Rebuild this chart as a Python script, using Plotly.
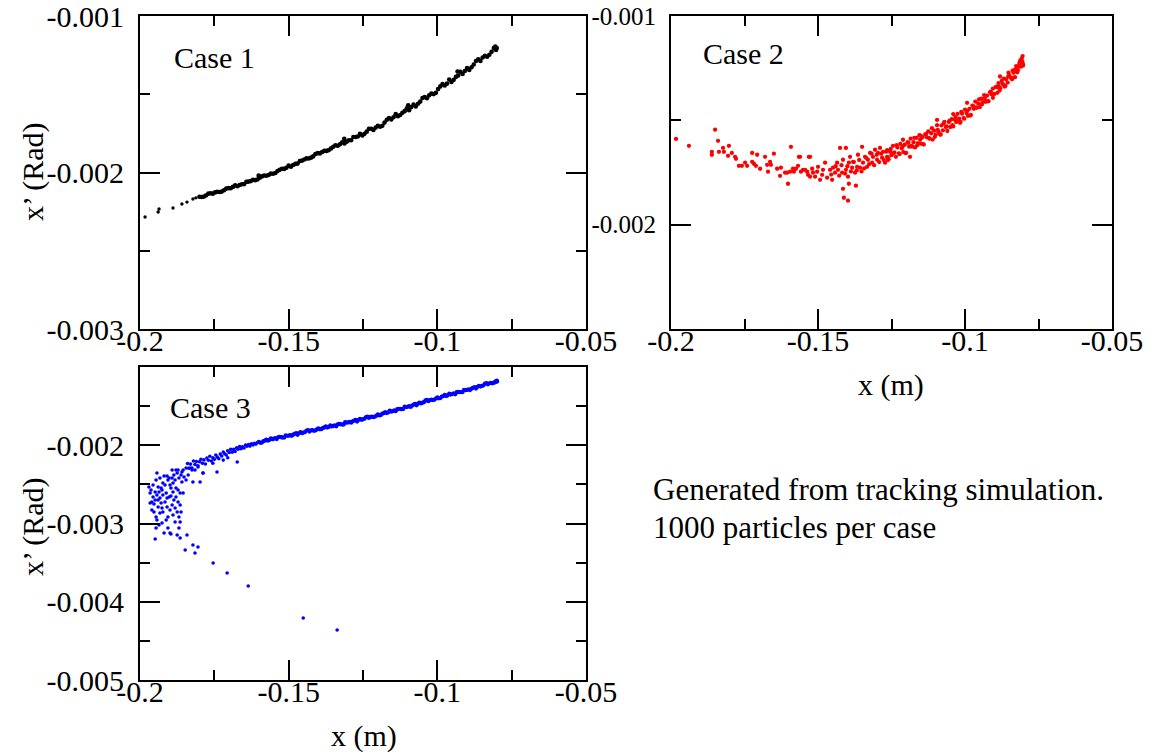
import plotly.graph_objects as go

# ---------------- data (x in m, x' in rad) ----------------
case1_tail = [(-0.1983, -0.002284), (-0.1939, -0.002252), (-0.1936, -0.002233), (-0.1889, -0.002227),
              (-0.1859, -0.002201), (-0.1842, -0.002189), (-0.1822, -0.002169), (-0.1812, -0.002162)]

case1_band = [(-0.1800, -0.002155), (-0.1785, -0.002154), (-0.1770, -0.002135), (-0.1755, -0.002135),
              (-0.1740, -0.002123), (-0.1725, -0.002122), (-0.1710, -0.002103), (-0.1695, -0.002101),
              (-0.1680, -0.002081), (-0.1665, -0.002080), (-0.1650, -0.002074), (-0.1635, -0.002058),
              (-0.1620, -0.002047), (-0.1605, -0.002045), (-0.1590, -0.002025), (-0.1575, -0.002021),
              (-0.1560, -0.002007), (-0.1545, -0.002003), (-0.1530, -0.001982), (-0.1515, -0.001977),
              (-0.1500, -0.001956), (-0.1485, -0.001952), (-0.1470, -0.001943), (-0.1455, -0.001924),
              (-0.1440, -0.001910), (-0.1425, -0.001905), (-0.1410, -0.001882), (-0.1395, -0.001878),
              (-0.1380, -0.001862), (-0.1365, -0.001857), (-0.1350, -0.001835), (-0.1335, -0.001829),
              (-0.1320, -0.001807), (-0.1305, -0.001803), (-0.1290, -0.001794), (-0.1275, -0.001773),
              (-0.1260, -0.001753), (-0.1245, -0.001753), (-0.1230, -0.001721), (-0.1215, -0.001728),
              (-0.1200, -0.001702), (-0.1185, -0.001701), (-0.1170, -0.001663), (-0.1155, -0.001661),
              (-0.1140, -0.001627), (-0.1125, -0.001633), (-0.1110, -0.001608), (-0.1095, -0.001602),
              (-0.1080, -0.001566), (-0.1065, -0.001561), (-0.1050, -0.001524), (-0.1035, -0.001526),
              (-0.1020, -0.001495), (-0.1005, -0.001491), (-0.0990, -0.001450), (-0.0975, -0.001444),
              (-0.0960, -0.001406), (-0.0945, -0.001408), (-0.0930, -0.001380), (-0.0915, -0.001370),
              (-0.0900, -0.001333), (-0.0885, -0.001327), (-0.0870, -0.001288), (-0.0855, -0.001287),
              (-0.0840, -0.001254), (-0.0825, -0.001248), (-0.0810, -0.001205), (-0.0800, -0.001205)]

case1_band2 = [(-0.17925, -0.002157), (-0.17625, -0.002133), (-0.17325, -0.002125), (-0.17025, -0.002100),
               (-0.16725, -0.002088), (-0.16425, -0.002060), (-0.16125, -0.002049), (-0.15825, -0.002019),
               (-0.15525, -0.002008), (-0.15225, -0.001976), (-0.14925, -0.001963), (-0.14625, -0.001927),
               (-0.14325, -0.001911), (-0.14025, -0.001876), (-0.13725, -0.001862), (-0.13425, -0.001826),
               (-0.13125, -0.001814), (-0.12825, -0.001773), (-0.12525, -0.001764), (-0.12225, -0.001720),
               (-0.11925, -0.001708), (-0.11625, -0.001652), (-0.11325, -0.001640), (-0.11025, -0.001589),
               (-0.10725, -0.001578), (-0.10425, -0.001518), (-0.10125, -0.001499), (-0.09825, -0.001435),
               (-0.09525, -0.001422), (-0.09225, -0.001357), (-0.08925, -0.001345), (-0.08625, -0.001277),
               (-0.08325, -0.001260), (-0.08050, -0.001196), (-0.08025, -0.001217),
               (-0.1601, -0.002020), (-0.1313, -0.001785), (-0.1098, -0.001570), (-0.0932, -0.001355)]

case1_band3 = [(-0.17775, -0.002146), (-0.17475, -0.002127), (-0.17175, -0.002113), (-0.16875, -0.002092),
               (-0.16575, -0.002075), (-0.16275, -0.002055), (-0.15975, -0.002034), (-0.15675, -0.002016),
               (-0.15375, -0.001991), (-0.15075, -0.001970), (-0.14775, -0.001945), (-0.14475, -0.001917),
               (-0.14175, -0.001897), (-0.13875, -0.001869), (-0.13575, -0.001846), (-0.13275, -0.001820),
               (-0.12975, -0.001794), (-0.12675, -0.001770), (-0.12375, -0.001739), (-0.12075, -0.001713),
               (-0.11775, -0.001681), (-0.11475, -0.001647), (-0.11175, -0.001619), (-0.10875, -0.001582),
               (-0.10575, -0.001547), (-0.10275, -0.001507), (-0.09975, -0.001467), (-0.09675, -0.001432),
               (-0.09375, -0.001389), (-0.09075, -0.001351), (-0.08775, -0.001310), (-0.08475, -0.001265),
               (-0.08175, -0.001228)]

case2_halo = [(-0.1983, -0.001589), (-0.1939, -0.001622), (-0.1850, -0.001545), (-0.1840, -0.001598),
              (-0.1861, -0.001651), (-0.1861, -0.001665), (-0.1837, -0.001651), (-0.1823, -0.001632),
              (-0.1820, -0.001651), (-0.1803, -0.001622), (-0.1806, -0.001670), (-0.1793, -0.001656),
              (-0.1782, -0.001675), (-0.1779, -0.001684), (-0.1769, -0.001718), (-0.1759, -0.001718),
              (-0.1748, -0.001703), (-0.1741, -0.001718), (-0.1724, -0.001656), (-0.1724, -0.001699),
              (-0.1718, -0.001708), (-0.1707, -0.001665), (-0.1711, -0.001718), (-0.1697, -0.001732),
              (-0.1680, -0.001675), (-0.1673, -0.001713), (-0.1670, -0.001746), (-0.1663, -0.001699),
              (-0.1660, -0.001713), (-0.1650, -0.001660), (-0.1639, -0.001732), (-0.1629, -0.001766),
              (-0.1626, -0.001727), (-0.1612, -0.001751), (-0.1605, -0.001751), (-0.1602, -0.001804),
              (-0.1595, -0.001746), (-0.1592, -0.001627), (-0.1585, -0.001732), (-0.1582, -0.001746),
              (-0.1575, -0.001732), (-0.1568, -0.001718), (-0.1565, -0.001675), (-0.1558, -0.001746),
              (-0.1551, -0.001737), (-0.1544, -0.001737), (-0.1537, -0.001746), (-0.1534, -0.001761),
              (-0.1531, -0.001675), (-0.1527, -0.001770), (-0.1520, -0.001732), (-0.1517, -0.001751),
              (-0.1510, -0.001770), (-0.1503, -0.001746), (-0.1500, -0.001723), (-0.1493, -0.001785),
              (-0.1486, -0.001761), (-0.1483, -0.001737), (-0.1476, -0.001703), (-0.1469, -0.001775),
              (-0.1459, -0.001737), (-0.1452, -0.001785), (-0.1449, -0.001727), (-0.1442, -0.001751),
              (-0.1435, -0.001703), (-0.1432, -0.001737), (-0.1425, -0.001632), (-0.1418, -0.001751),
              (-0.1415, -0.001689), (-0.1415, -0.001828), (-0.1412, -0.001871), (-0.1405, -0.001632),
              (-0.1405, -0.001737), (-0.1398, -0.001885), (-0.1398, -0.001770), (-0.1395, -0.001703),
              (-0.1391, -0.001675), (-0.1384, -0.001727), (-0.1381, -0.001699), (-0.1374, -0.001751),
              (-0.1371, -0.001813), (-0.1367, -0.001723), (-0.1364, -0.001665), (-0.1357, -0.001727),
              (-0.1350, -0.001627), (-0.1347, -0.001703), (-0.1340, -0.001675), (-0.1333, -0.001723),
              (-0.1330, -0.001689), (-0.1323, -0.001656), (-0.1316, -0.001703), (-0.1313, -0.001675),
              (-0.1306, -0.001641), (-0.1299, -0.001689), (-0.1296, -0.001656), (-0.1289, -0.001632),
              (-0.1282, -0.001679), (-0.1279, -0.001651), (-0.1272, -0.001703), (-0.1265, -0.001675),
              (-0.1561, -0.001675), (-0.1527, -0.001675), (-0.1395, -0.001804),
              (-0.1455, -0.001760), (-0.1440, -0.001720), (-0.1428, -0.001765), (-0.1420, -0.001715),
              (-0.1408, -0.001755), (-0.1400, -0.001720), (-0.1388, -0.001745), (-0.1378, -0.001700),
              (-0.1368, -0.001740), (-0.1360, -0.001690), (-0.1352, -0.001745), (-0.1343, -0.001730),
              (-0.1336, -0.001680), (-0.1326, -0.001710), (-0.1318, -0.001660), (-0.1309, -0.001715),
              (-0.1300, -0.001665), (-0.1292, -0.001700), (-0.1285, -0.001660), (-0.1276, -0.001690),
              (-0.1268, -0.001650), (-0.1262, -0.001690)]

case2_core = [(-0.1265, -0.001643), (-0.1260, -0.001686), (-0.1255, -0.001651), (-0.1250, -0.001667),
              (-0.1245, -0.001622), (-0.1240, -0.001654), (-0.1235, -0.001675), (-0.1230, -0.001630),
              (-0.1225, -0.001658), (-0.1220, -0.001613), (-0.1215, -0.001634), (-0.1210, -0.001652),
              (-0.1205, -0.001617), (-0.1200, -0.001656), (-0.1195, -0.001605), (-0.1190, -0.001626),
              (-0.1185, -0.001588), (-0.1180, -0.001626), (-0.1175, -0.001605), (-0.1170, -0.001630),
              (-0.1165, -0.001584), (-0.1160, -0.001609), (-0.1155, -0.001571), (-0.1150, -0.001612),
              (-0.1145, -0.001581), (-0.1140, -0.001616), (-0.1135, -0.001568), (-0.1130, -0.001581),
              (-0.1125, -0.001553), (-0.1120, -0.001588), (-0.1115, -0.001562), (-0.1110, -0.001592),
              (-0.1105, -0.001549), (-0.1100, -0.001569), (-0.1095, -0.001523), (-0.1090, -0.001556),
              (-0.1085, -0.001568), (-0.1080, -0.001524), (-0.1075, -0.001548), (-0.1070, -0.001507),
              (-0.1065, -0.001532), (-0.1060, -0.001551), (-0.1055, -0.001508), (-0.1050, -0.001532),
              (-0.1045, -0.001494), (-0.1040, -0.001529), (-0.1035, -0.001497), (-0.1030, -0.001508),
              (-0.1025, -0.001469), (-0.1020, -0.001492), (-0.1015, -0.001507), (-0.1010, -0.001468),
              (-0.1005, -0.001489), (-0.1000, -0.001449), (-0.0995, -0.001465), (-0.0990, -0.001478),
              (-0.0985, -0.001445), (-0.0980, -0.001474), (-0.0975, -0.001430), (-0.0970, -0.001445),
              (-0.0965, -0.001410), (-0.0960, -0.001440), (-0.0955, -0.001420), (-0.0950, -0.001437),
              (-0.0945, -0.001396), (-0.0940, -0.001413), (-0.0935, -0.001379), (-0.0930, -0.001411),
              (-0.0925, -0.001382), (-0.0920, -0.001408), (-0.0915, -0.001366), (-0.0910, -0.001375),
              (-0.0905, -0.001348), (-0.0900, -0.001374), (-0.0895, -0.001340), (-0.0890, -0.001368),
              (-0.0885, -0.001339), (-0.0880, -0.001346), (-0.0875, -0.001311), (-0.0870, -0.001329),
              (-0.0865, -0.001338), (-0.0860, -0.001303), (-0.0855, -0.001319), (-0.0850, -0.001283),
              (-0.0845, -0.001294), (-0.0840, -0.001303), (-0.0835, -0.001272), (-0.0830, -0.001293),
              (-0.0825, -0.001251), (-0.0820, -0.001260), (-0.0815, -0.001225), (-0.0810, -0.001243),
              (-0.0805, -0.001218)]

case2_core2 = [(-0.12625, -0.001678), (-0.12525, -0.001637), (-0.12425, -0.001657), (-0.12325, -0.001619),
               (-0.12225, -0.001662), (-0.12125, -0.001624), (-0.12025, -0.001657), (-0.11925, -0.001608),
               (-0.11825, -0.001622), (-0.11725, -0.001584), (-0.11625, -0.001620), (-0.11525, -0.001592),
               (-0.11425, -0.001614), (-0.11325, -0.001565), (-0.11225, -0.001585), (-0.11125, -0.001538),
               (-0.11025, -0.001579), (-0.10925, -0.001546), (-0.10825, -0.001568), (-0.10725, -0.001515),
               (-0.10625, -0.001529), (-0.10525, -0.001502), (-0.10425, -0.001523), (-0.10325, -0.001483),
               (-0.10225, -0.001496), (-0.10125, -0.001459), (-0.10025, -0.001492), (-0.09925, -0.001455),
               (-0.09825, -0.001477), (-0.09725, -0.001431), (-0.09625, -0.001438), (-0.09525, -0.001400),
               (-0.09425, -0.001424), (-0.09325, -0.001395), (-0.09225, -0.001409), (-0.09125, -0.001362),
               (-0.09025, -0.001373), (-0.08925, -0.001341), (-0.08825, -0.001357), (-0.08725, -0.001325),
               (-0.08625, -0.001335), (-0.08525, -0.001289), (-0.08425, -0.001297), (-0.08325, -0.001259),
               (-0.08225, -0.001270), (-0.08125, -0.001230), (-0.08025, -0.001231),
               (-0.0804, -0.001192), (-0.0807, -0.001203), (-0.0812, -0.001214), (-0.0803, -0.001238),
               (-0.0818, -0.001242), (-0.0826, -0.001240), (-0.0838, -0.001262), (-0.0852, -0.001272),
               (-0.0868, -0.001300), (-0.0886, -0.001322),
               (-0.1211, -0.001593), (-0.1095, -0.001498), (-0.0993, -0.001416), (-0.0881, -0.001290),
               (-0.1187, -0.001675), (-0.1017, -0.001512), (-0.0905, -0.001392), (-0.1150, -0.001575),
               (-0.1040, -0.001470)]

case3_band = [(-0.160, -0.001957), (-0.159, -0.001966), (-0.158, -0.001942), (-0.157, -0.001941),
              (-0.156, -0.001912), (-0.155, -0.001917), (-0.154, -0.001921), (-0.153, -0.001894),
              (-0.152, -0.001901), (-0.151, -0.001874), (-0.150, -0.001877), (-0.149, -0.001880),
              (-0.148, -0.001855), (-0.147, -0.001866), (-0.146, -0.001834), (-0.145, -0.001838),
              (-0.144, -0.001812), (-0.143, -0.001824), (-0.142, -0.001807), (-0.141, -0.001810),
              (-0.140, -0.001784), (-0.139, -0.001795), (-0.138, -0.001773), (-0.137, -0.001774),
              (-0.136, -0.001747), (-0.135, -0.001754), (-0.134, -0.001757), (-0.133, -0.001728),
              (-0.132, -0.001735), (-0.131, -0.001706), (-0.130, -0.001708), (-0.129, -0.001711),
              (-0.128, -0.001685), (-0.127, -0.001697), (-0.126, -0.001664), (-0.125, -0.001668),
              (-0.124, -0.001640), (-0.123, -0.001651), (-0.122, -0.001633), (-0.121, -0.001635),
              (-0.120, -0.001607), (-0.119, -0.001615), (-0.118, -0.001590), (-0.117, -0.001589),
              (-0.116, -0.001559), (-0.115, -0.001564), (-0.114, -0.001565), (-0.113, -0.001534),
              (-0.112, -0.001539), (-0.111, -0.001508), (-0.110, -0.001509), (-0.109, -0.001510),
              (-0.108, -0.001482), (-0.107, -0.001490), (-0.106, -0.001455), (-0.105, -0.001457),
              (-0.104, -0.001428), (-0.103, -0.001437), (-0.102, -0.001417), (-0.101, -0.001417),
              (-0.100, -0.001388), (-0.099, -0.001397), (-0.098, -0.001372), (-0.097, -0.001371),
              (-0.096, -0.001341), (-0.095, -0.001346), (-0.094, -0.001348), (-0.093, -0.001317),
              (-0.092, -0.001322), (-0.091, -0.001292), (-0.090, -0.001293), (-0.089, -0.001294),
              (-0.088, -0.001266), (-0.087, -0.001275), (-0.086, -0.001240), (-0.085, -0.001242),
              (-0.084, -0.001213), (-0.083, -0.001222), (-0.082, -0.001202), (-0.081, -0.001202),
              (-0.080, -0.001173)]

case3_band2 = [(-0.1595, -0.001969), (-0.1575, -0.001928), (-0.1555, -0.001924), (-0.1535, -0.001897),
               (-0.1515, -0.001902), (-0.1495, -0.001870), (-0.1475, -0.001846), (-0.1455, -0.001845),
               (-0.1435, -0.001807), (-0.1415, -0.001816), (-0.1395, -0.001797), (-0.1375, -0.001760),
               (-0.1355, -0.001760), (-0.1335, -0.001732), (-0.1315, -0.001735), (-0.1295, -0.001701),
               (-0.1275, -0.001676), (-0.1255, -0.001675), (-0.1235, -0.001634), (-0.1215, -0.001641),
               (-0.1195, -0.001619), (-0.1175, -0.001576), (-0.1155, -0.001571), (-0.1135, -0.001539),
               (-0.1115, -0.001538), (-0.1095, -0.001501), (-0.1075, -0.001471), (-0.1055, -0.001465),
               (-0.1035, -0.001421), (-0.1015, -0.001424), (-0.0995, -0.001400), (-0.0975, -0.001358),
               (-0.0955, -0.001353), (-0.0935, -0.001322), (-0.0915, -0.001321), (-0.0895, -0.001285),
               (-0.0875, -0.001256), (-0.0855, -0.001250), (-0.0835, -0.001206), (-0.0815, -0.001209),
               (-0.0803, -0.001185), (-0.0806, -0.001195), (-0.0799, -0.001186)]

case3_band3 = [(-0.1585, -0.001948), (-0.1565, -0.001932), (-0.1545, -0.001910), (-0.1525, -0.001898),
               (-0.1505, -0.001880), (-0.1485, -0.001866), (-0.1465, -0.001845), (-0.1445, -0.001832),
               (-0.1425, -0.001811), (-0.1405, -0.001798), (-0.1385, -0.001778), (-0.1365, -0.001766),
               (-0.1345, -0.001746), (-0.1325, -0.001732), (-0.1305, -0.001711), (-0.1285, -0.001696),
               (-0.1265, -0.001676), (-0.1245, -0.001661), (-0.1225, -0.001638), (-0.1205, -0.001622),
               (-0.1185, -0.001597), (-0.1165, -0.001579), (-0.1145, -0.001555), (-0.1125, -0.001537),
               (-0.1105, -0.001512), (-0.1085, -0.001494), (-0.1065, -0.001468), (-0.1045, -0.001449),
               (-0.1025, -0.001423), (-0.1005, -0.001403), (-0.0985, -0.001379), (-0.0965, -0.001361),
               (-0.0945, -0.001337), (-0.0925, -0.001320), (-0.0905, -0.001296), (-0.0885, -0.001278),
               (-0.0865, -0.001253), (-0.0845, -0.001234), (-0.0825, -0.001208), (-0.0805, -0.001188)]

case3_bend = [(-0.1840, -0.002233), (-0.1836, -0.002293), (-0.1830, -0.002241), (-0.1825, -0.002291),
              (-0.1820, -0.002202), (-0.1815, -0.002246), (-0.1810, -0.002208), (-0.1805, -0.002262),
              (-0.1800, -0.002211), (-0.1795, -0.002178), (-0.1790, -0.002230), (-0.1785, -0.002187),
              (-0.1780, -0.002239), (-0.1775, -0.002163), (-0.1770, -0.002192), (-0.1765, -0.002141),
              (-0.1760, -0.002201), (-0.1755, -0.002160), (-0.1750, -0.002180), (-0.1745, -0.002124),
              (-0.1740, -0.002152), (-0.1735, -0.002171), (-0.1730, -0.002113), (-0.1725, -0.002138),
              (-0.1720, -0.002087), (-0.1715, -0.002109), (-0.1710, -0.002124), (-0.1705, -0.002070),
              (-0.1700, -0.002092), (-0.1695, -0.002052), (-0.1690, -0.002088), (-0.1685, -0.002053),
              (-0.1680, -0.002080), (-0.1675, -0.002034), (-0.1670, -0.002051), (-0.1665, -0.002016),
              (-0.1660, -0.002045), (-0.1655, -0.002019), (-0.1650, -0.002036), (-0.1645, -0.001998),
              (-0.1640, -0.002013), (-0.1635, -0.001992), (-0.1630, -0.002011), (-0.1625, -0.001983),
              (-0.1620, -0.001996), (-0.1615, -0.001975), (-0.1610, -0.001985), (-0.1605, -0.001966),
              (-0.1741, -0.002342), (-0.1673, -0.002214), (-0.1788, -0.002355), (-0.1705, -0.002160),
              (-0.1755, -0.002230), (-0.1720, -0.002190)]

case3_cluster = [(-0.1970, -0.002534), (-0.1966, -0.002738), (-0.1960, -0.002725), (-0.1956, -0.002661),
                 (-0.1953, -0.002751), (-0.1949, -0.002700), (-0.1946, -0.002917), (-0.1949, -0.003198),
                 (-0.1943, -0.002355), (-0.1943, -0.002636), (-0.1939, -0.002789), (-0.1936, -0.002598),
                 (-0.1933, -0.002674), (-0.1929, -0.002546), (-0.1926, -0.002994), (-0.1926, -0.002802),
                 (-0.1923, -0.002482), (-0.1919, -0.003121), (-0.1916, -0.002725), (-0.1912, -0.002610),
                 (-0.1909, -0.002789), (-0.1906, -0.002444), (-0.1906, -0.002917), (-0.1902, -0.002661),
                 (-0.1899, -0.003121), (-0.1896, -0.002546), (-0.1892, -0.002316), (-0.1892, -0.002764),
                 (-0.1889, -0.002891), (-0.1889, -0.002482), (-0.1882, -0.002981), (-0.1879, -0.002661),
                 (-0.1875, -0.002355), (-0.1875, -0.002853), (-0.1875, -0.003147), (-0.1872, -0.002572),
                 (-0.1869, -0.002917), (-0.1865, -0.002610), (-0.1865, -0.002981), (-0.1859, -0.002342),
                 (-0.1859, -0.002470), (-0.1855, -0.002610), (-0.1845, -0.002444), (-0.1842, -0.003147),
                 (-0.1865, -0.003185), (-0.1825, -0.002316), (-0.1822, -0.002470), (-0.1798, -0.002470),
                 (-0.1788, -0.002355), (-0.1896, -0.003134),
                 (-0.1963, -0.002572), (-0.1956, -0.002508), (-0.1946, -0.002444), (-0.1939, -0.002534),
                 (-0.1933, -0.002419), (-0.1926, -0.002572), (-0.1919, -0.002393), (-0.1916, -0.002508),
                 (-0.1909, -0.002393), (-0.1902, -0.002419), (-0.1899, -0.002508), (-0.1892, -0.002419),
                 (-0.1886, -0.002380), (-0.1882, -0.002444), (-0.1879, -0.002316), (-0.1872, -0.002316),
                 (-0.1869, -0.002419), (-0.1862, -0.002380), (-0.1855, -0.002316), (-0.1852, -0.002406),
                 (-0.1845, -0.002291), (-0.1838, -0.002380), (-0.1832, -0.002291), (-0.1815, -0.002316),
                 (-0.1805, -0.002278), (-0.1966, -0.002610), (-0.1960, -0.002827), (-0.1953, -0.002853),
                 (-0.1943, -0.002955), (-0.1936, -0.003019), (-0.1929, -0.002738), (-0.1923, -0.002853),
                 (-0.1912, -0.002955), (-0.1906, -0.003057), (-0.1899, -0.002827), (-0.1886, -0.002700),
                 (-0.1882, -0.002802), (-0.1872, -0.002725), (-0.1865, -0.002764), (-0.1862, -0.002853),
                 (-0.1869, -0.003057), (-0.1946, -0.003057), (-0.1933, -0.002866), (-0.1909, -0.002674),
                 (-0.1896, -0.002648), (-0.1889, -0.002598), (-0.1879, -0.002546), (-0.1923, -0.002636),
                 (-0.1939, -0.002700), (-0.1949, -0.002598)]

case3_tail = [(-0.1822, -0.003275), (-0.1815, -0.003377), (-0.1805, -0.003300), (-0.1848, -0.003339),
              (-0.1754, -0.003505), (-0.1707, -0.003633), (-0.1636, -0.003799), (-0.1451, -0.004208),
              (-0.1337, -0.004361)]

x_ticks = [-0.2, -0.15, -0.1, -0.05]
x_ticktext = ["-0.2", "-0.15", "-0.1", "-0.05"]
x_minor = [-0.175, -0.125, -0.075]

y1_ticks = [-0.003, -0.002, -0.001]
y1_ticktext = ["-0.003", "-0.002", "-0.001"]
y1_minor = [-0.0025, -0.0015]

y2_ticks = [-0.002, -0.001]
y2_ticktext = ["-0.002", "-0.001"]
y2_minor = [-0.0015]

y3_ticks = [-0.005, -0.004, -0.003, -0.002]
y3_ticktext = ["-0.005", "-0.004", "-0.003", "-0.002"]
y3_minor = [-0.0045, -0.0035, -0.0025, -0.0015]

# ---------------- figure ----------------
FONT = "Liberation Serif"
W, H = 1151, 752


def xs(*groups):
    return [p[0] for g in groups for p in g]


def ys(*groups):
    return [p[1] for g in groups for p in g]


def dots(groups, color, size, xa, ya):
    return go.Scatter(x=xs(*groups), y=ys(*groups), mode="markers",
                      marker=dict(color=color, size=size, line=dict(width=0)), xaxis=xa, yaxis=ya)


fig = go.Figure()
fig.add_trace(dots([case1_tail], "#000000", 3.4, "x", "y"))
fig.add_trace(dots([case1_band, case1_band2, case1_band3], "#000000", 4.6, "x", "y"))
fig.add_trace(dots([case2_halo, case2_core, case2_core2], "#ff0000", 4.3, "x2", "y2"))
fig.add_trace(dots([case3_band, case3_band2, case3_band3], "#0000ff", 4.3, "x3", "y3"))
fig.add_trace(dots([case3_bend, case3_cluster, case3_tail], "#0000ff", 3.6, "x3", "y3"))


def axis_style(tickvals, ticktext, minorvals, rng, size=30, standoff=4):
    return dict(range=rng, tickmode="array", tickvals=tickvals, ticktext=ticktext,
                ticks="inside", ticklen=20, tickwidth=2, tickcolor="black",
                showline=True, linewidth=2, linecolor="black", mirror="ticks",
                showgrid=False, zeroline=False, automargin=False, ticklabeloverflow="allow",
                tickfont=dict(family=FONT, size=size, color="black"),
                ticklabelstandoff=standoff,
                minor=dict(tickvals=minorvals, ticks="inside", ticklen=10, tickwidth=2,
                           tickcolor="black", showgrid=False))


px = lambda v: v / W
py = lambda v: 1 - v / H
XSTAND = -16

fig.update_layout(
    template="none",
    width=W, height=H, margin=dict(l=0, r=0, t=0, b=0, pad=0, autoexpand=False),
    font=dict(family=FONT, color="black"),
    paper_bgcolor="white", plot_bgcolor="white", showlegend=False,
    xaxis=dict(domain=[px(140), px(586)], anchor="y",
               **axis_style(x_ticks, x_ticktext, x_minor, [-0.2, -0.05], standoff=XSTAND)),
    yaxis=dict(domain=[py(329), py(16)], anchor="x",
               **axis_style(y1_ticks, y1_ticktext, y1_minor, [-0.003, -0.001], standoff=8)),
    xaxis2=dict(domain=[px(671), px(1112)], anchor="y2",
                **axis_style(x_ticks, x_ticktext, x_minor, [-0.2, -0.05], standoff=XSTAND)),
    yaxis2=dict(domain=[py(329), py(16)], anchor="x2",
                **axis_style(y2_ticks, y2_ticktext, y2_minor, [-0.0025, -0.001], size=25, standoff=8)),
    xaxis3=dict(domain=[px(140), px(586)], anchor="y3",
                **axis_style(x_ticks, x_ticktext, x_minor, [-0.2, -0.05], standoff=XSTAND)),
    yaxis3=dict(domain=[py(680), py(367)], anchor="x3",
                **axis_style(y3_ticks, y3_ticktext, y3_minor, [-0.005, -0.001], standoff=8)),
)

txt = dict(family=FONT, size=30, color="black")
annotations = [
    dict(text="Case 1", x=px(172), y=py(57), xanchor="left", yanchor="middle", font=txt),
    dict(text="Case 2", x=px(701), y=py(54), xanchor="left", yanchor="middle", font=txt),
    dict(text="Case 3", x=px(168), y=py(407), xanchor="left", yanchor="middle", font=txt),
    dict(text="x’ (Rad)", x=px(33), y=py(172), textangle=-90, xanchor="center", yanchor="middle", font=txt),
    dict(text="x’ (Rad)", x=px(33), y=py(527), textangle=-90, xanchor="center", yanchor="middle", font=txt),
    dict(text="x (m)", x=px(891), y=py(385), xanchor="center", yanchor="middle", font=txt),
    dict(text="x (m)", x=px(364), y=py(736), xanchor="center", yanchor="middle", font=txt),
    dict(text="Generated from tracking simulation.", x=px(651), y=py(489), xanchor="left", yanchor="middle",
         font=dict(family=FONT, size=31, color="black")),
    dict(text="1000 particles per case", x=px(651), y=py(527), xanchor="left", yanchor="middle",
         font=dict(family=FONT, size=31, color="black")),
]
for a in annotations:
    a.update(xref="paper", yref="paper", showarrow=False)
fig.update_layout(annotations=annotations)

# the page's default 8px body margin would shift the whole figure; remove it
fig.write_html("out.html", config={"displayModeBar": False},
               post_script="document.body.style.margin='0px';")
